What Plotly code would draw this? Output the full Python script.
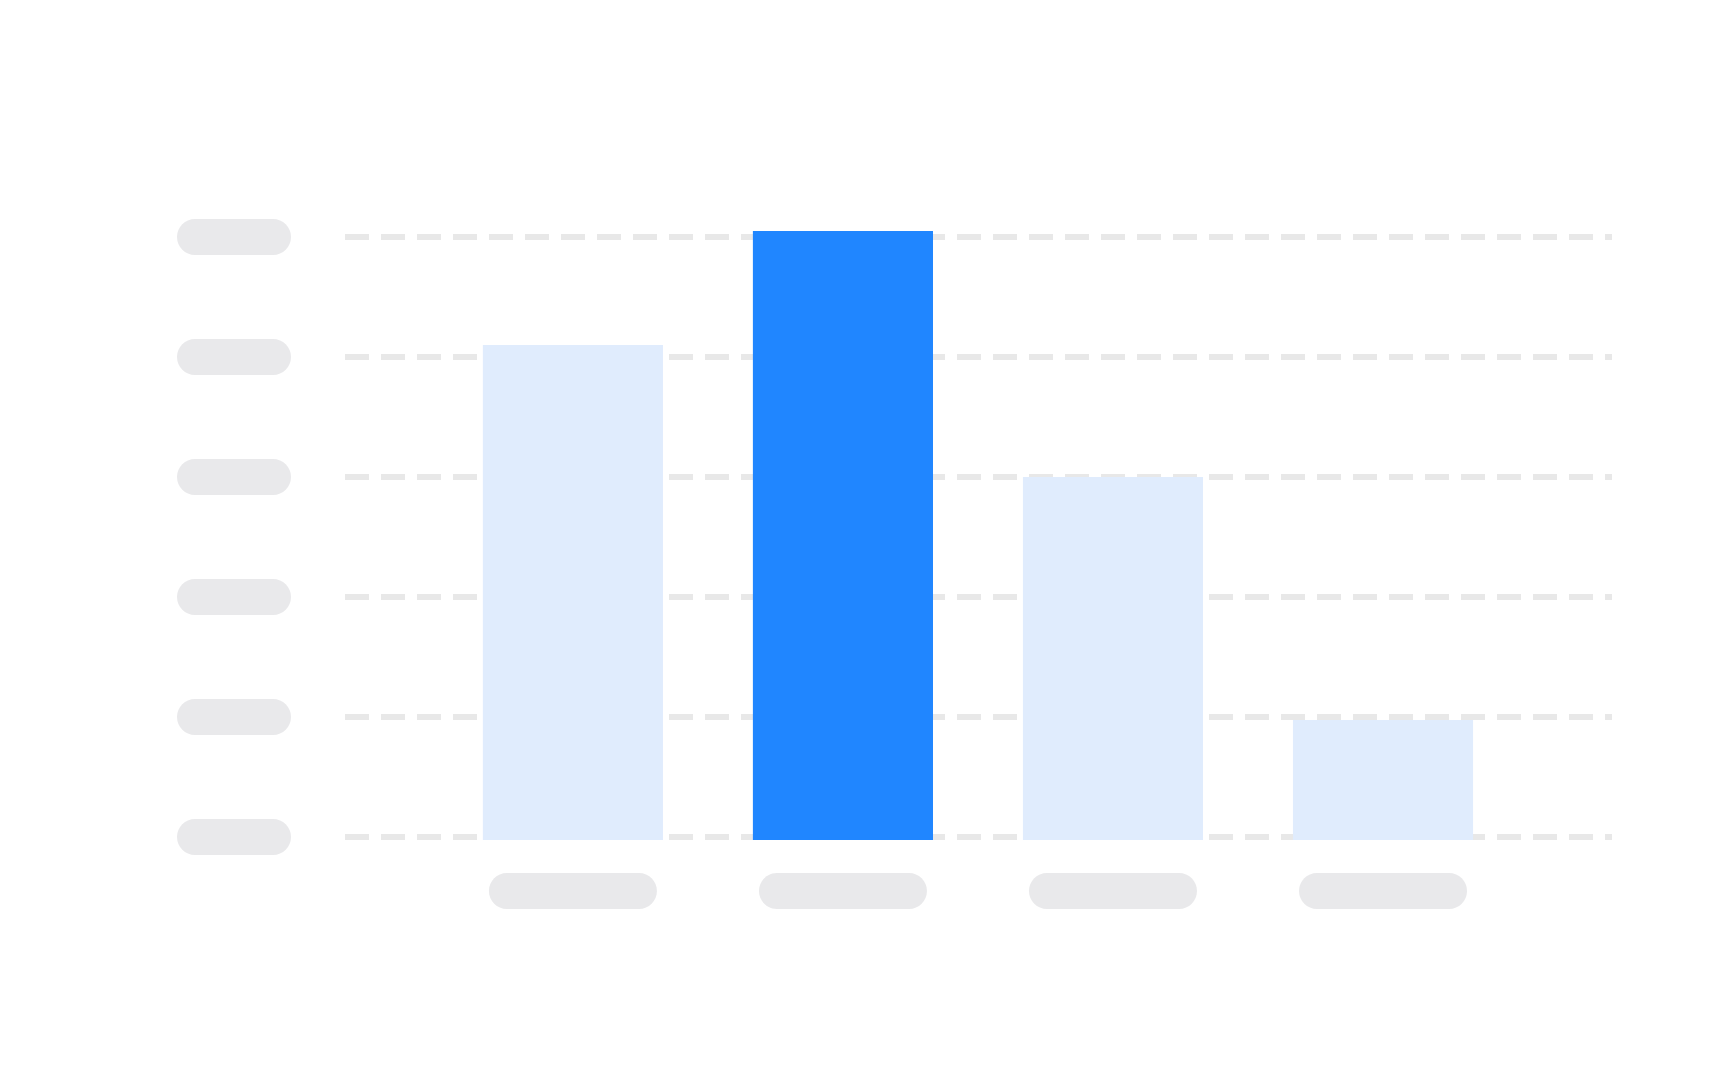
import plotly.graph_objects as go

# placeholder skeleton bar chart: no real text, just grey pills for labels
categories = ["A", "B", "C", "D"]
values = [4.1, 5.05, 3.0, 0.975]     # bar tops
highlight = [False, True, False, False]
y_ticks = [0, 1, 2, 3, 4, 5]
BASE = -0.025   # bars sit a few px below the zero grid line in the reference

LIGHT = "#e0ecfd"
DARK = "#2086ff"
GREY = "#e9e9eb"
GRID = "#e8e8e8"


def pill_path(w, h, cx=0.0, cy=0.0):
    # rounded bar drawn with bezier quarter arcs (pixel units)
    r = h / 2
    k = 0.5523 * r
    a = w / 2 - r
    L, R = cx - a, cx + a
    return (f"M {L},{cy - r} L {R},{cy - r} "
            f"C {R + k},{cy - r} {cx + w / 2},{cy - k} {cx + w / 2},{cy} "
            f"C {cx + w / 2},{cy + k} {R + k},{cy + r} {R},{cy + r} "
            f"L {L},{cy + r} "
            f"C {L - k},{cy + r} {cx - w / 2},{cy + k} {cx - w / 2},{cy} "
            f"C {cx - w / 2},{cy - k} {L - k},{cy - r} {L},{cy - r} Z")


fig = go.Figure(go.Bar(
    x=categories, y=[v - BASE for v in values], base=BASE,
    marker=dict(color=[DARK if h else LIGHT for h in highlight], line_width=0),
    width=0.667, hoverinfo="skip",
))

shapes = []
# y axis label placeholders, left of the plot area
for t in y_ticks:
    shapes.append(dict(type="path", xref="paper", yref="y", xsizemode="pixel",
                       ysizemode="pixel", xanchor=0, yanchor=t,
                       path=pill_path(114, 36, cx=-111),
                       fillcolor=GREY, line_width=0))
# x axis label placeholders
for c in categories:
    shapes.append(dict(type="path", xref="x", yref="paper", xsizemode="pixel",
                       ysizemode="pixel", xanchor=c, yanchor=0,
                       path=pill_path(168, 36, cy=-30),
                       fillcolor=GREY, line_width=0))

# page body has an 8px margin, so pull the plot area up/left by that much
fig.update_layout(
    width=1728, height=1080,
    margin=dict(l=337, r=124, t=205, b=227),
    paper_bgcolor="white", plot_bgcolor="white",
    showlegend=False,
    shapes=shapes,
    xaxis=dict(range=[-0.844, 3.848], showticklabels=False, showgrid=False,
               zeroline=False, showline=False, ticks=""),
    yaxis=dict(range=[-0.2, 5.2], tickvals=y_ticks, showticklabels=False,
               showgrid=True, gridcolor=GRID, gridwidth=6, griddash="24px,12px",
               zeroline=False, showline=False, ticks=""),
)

fig.write_html("out.html")
